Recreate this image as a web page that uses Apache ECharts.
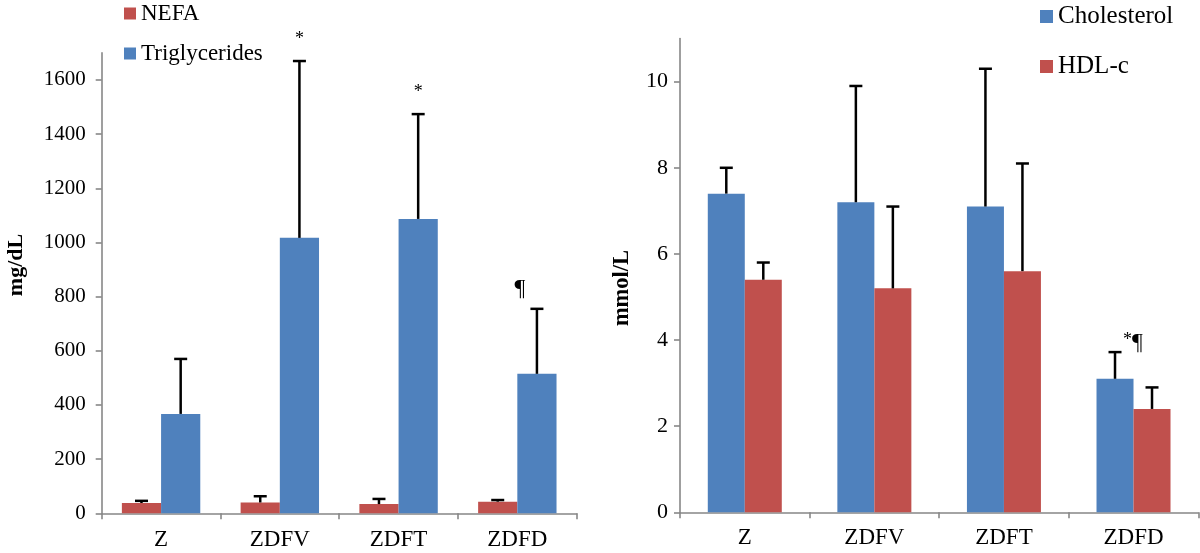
<!DOCTYPE html>
<html>
<head>
<meta charset="utf-8">
<script src="https://cdn.jsdelivr.net/npm/echarts@6/dist/echarts.min.js"></script>
<style>html,body{margin:0;padding:0;background:#fff;}#c{width:1200px;height:553px;}</style>
</head>
<body>
<div id="c"></div>
<script>
const categories = ['Z', 'ZDFV', 'ZDFT', 'ZDFD'];
// Left panel (mg/dL)
const nefa = [38, 40, 34, 43];
const nefaErr = [46, 63, 53, 49];
const trig = [367, 1017, 1087, 515];
const trigErr = [570, 1670, 1474, 755];
const trigMarks = ['', '*', '*', '¶'];
const leftTicks = [0, 200, 400, 600, 800, 1000, 1200, 1400, 1600];
// Right panel (mmol/L)
const chol = [7.4, 7.2, 7.1, 3.1];
const cholErr = [8.0, 9.9, 10.3, 3.72];
const hdl = [5.4, 5.2, 5.6, 2.4];
const hdlErr = [5.8, 7.1, 8.1, 2.9];
const cholMarks = ['', '', '', '*¶'];
const rightTicks = [0, 2, 4, 6, 8, 10];

const RED = '#C0504D', BLUE = '#4F81BD', AXIS = '#878787';
const FONT = '"Liberation Serif", "Times New Roman", serif';

const chart = echarts.init(document.getElementById('c'));

function errData(mean, upper, marks) {
  return mean.map((m, i) => [i, m, upper[i], marks ? marks[i] : '']);
}

// layout of annotation glyphs relative to the error-bar cap
const markLayout = {
  '*': { dx: 0, dy: -19, align: 'center' },
  '¶': { dx: -17, dy: -20, align: 'center' },
  '*¶': { dx: 8, dy: -9, align: 'left' }
};

function errSeries(name, xi, yi, mean, upper, marks, offset) {
  return {
    type: 'custom', name: name, xAxisIndex: xi, yAxisIndex: yi, z: 5, silent: true,
    encode: { x: 0, y: [1, 2] },
    renderItem: function (params, api) {
      const base = api.coord([api.value(0), api.value(1)]);
      const top = api.coord([api.value(0), api.value(2)]);
      const cx = base[0] + offset;
      const children = [
        { type: 'line', shape: { x1: cx, y1: base[1], x2: cx, y2: top[1] }, style: { stroke: '#000', lineWidth: 2.5 } },
        { type: 'line', shape: { x1: cx - 6.5, y1: top[1], x2: cx + 6.5, y2: top[1] }, style: { stroke: '#000', lineWidth: 2.5 } }
      ];
      const mark = marks ? marks[params.dataIndex] : '';
      if (mark) {
        const L = markLayout[mark];
        const rt = mark.split('').map(ch => ch === '*' ? '{s|*}' : '{p|' + ch + '}').join('');
        children.push({
          type: 'text',
          style: {
            x: cx + L.dx, y: top[1] + L.dy, text: rt, fill: '#000',
            align: L.align, verticalAlign: 'middle',
            rich: {
              s: { fontSize: 18, fontFamily: FONT, fill: '#000', verticalAlign: 'top', padding: [0, 0, 6, 0] },
              p: { fontSize: 24, fontFamily: FONT, fill: '#000' }
            }
          }
        });
      }
      return { type: 'group', children: children };
    },
    data: errData(mean, upper, marks)
  };
}

function xAxisCfg(gi, margin, fs) {
  return {
    type: 'category', gridIndex: gi, data: categories,
    axisLine: { lineStyle: { color: AXIS, width: 1.6 } },
    axisTick: { show: true, length: 6, lineStyle: { color: AXIS, width: 1.6 } },
    axisLabel: { color: '#000', fontFamily: FONT, fontSize: fs, margin: margin },
    splitLine: { show: false }
  };
}

function yAxisCfg(gi, max, interval, ticks, margin, fs) {
  return {
    type: 'value', gridIndex: gi, min: 0, max: max, interval: interval,
    axisLine: { show: true, lineStyle: { color: AXIS, width: 1.6 } },
    axisTick: { show: true, length: 6, customValues: ticks, lineStyle: { color: AXIS, width: 1.6 } },
    axisLabel: { color: '#000', fontFamily: FONT, fontSize: fs, margin: margin, customValues: ticks,
      formatter: v => String(v) },
    splitLine: { show: false }
  };
}

const option = {
  backgroundColor: '#fff',
  animation: false,
  grid: [
    { left: 101.7, top: 52.9, width: 475, height: 460.4, outerBoundsMode: 'none', containLabel: false },
    { left: 680, top: 38.6, width: 518.3, height: 473.7, outerBoundsMode: 'none', containLabel: false }
  ],
  xAxis: [xAxisCfg(0, 15, 23), xAxisCfg(1, 14.5, 23)],
  yAxis: [yAxisCfg(0, 1700, 200, leftTicks, 16, 21), yAxisCfg(1, 11, 2, rightTicks, 12, 22)],
  legend: [
    {
      data: ['NEFA', 'Triglycerides'], orient: 'vertical', left: 124, top: 2, itemGap: 17, padding: 0,
      itemWidth: 12, itemHeight: 12, icon: 'rect',
      textStyle: { fontFamily: FONT, fontSize: 23, color: '#000' }
    },
    {
      data: ['Cholesterol', 'HDL-c'], orient: 'vertical', left: 1040, top: 4, itemGap: 25, padding: 0,
      itemWidth: 13, itemHeight: 13, icon: 'rect',
      textStyle: { fontFamily: FONT, fontSize: 25, color: '#000' }
    }
  ],
  graphic: [
    { type: 'text', x: 16, y: 265, rotation: Math.PI / 2,
      style: { text: 'mg/dL', font: 'bold 22px ' + FONT, fill: '#000', align: 'center', verticalAlign: 'middle' } },
    { type: 'text', x: 622, y: 288, rotation: Math.PI / 2,
      style: { text: 'mmol/L', font: 'bold 22.5px ' + FONT, fill: '#000', align: 'center', verticalAlign: 'middle' } }
  ],
  series: [
    { type: 'bar', name: 'NEFA', xAxisIndex: 0, yAxisIndex: 0, data: nefa, barWidth: 39.2, barGap: '0%', itemStyle: { color: RED } },
    { type: 'bar', name: 'Triglycerides', xAxisIndex: 0, yAxisIndex: 0, data: trig, barWidth: 39.2, barGap: '0%', itemStyle: { color: BLUE } },
    { type: 'bar', name: 'Cholesterol', xAxisIndex: 1, yAxisIndex: 1, data: chol, barWidth: 37, barGap: '0%', itemStyle: { color: BLUE } },
    { type: 'bar', name: 'HDL-c', xAxisIndex: 1, yAxisIndex: 1, data: hdl, barWidth: 37, barGap: '0%', itemStyle: { color: RED } },
    errSeries('nefaErr', 0, 0, nefa, nefaErr, null, -19.6),
    errSeries('trigErr', 0, 0, trig, trigErr, trigMarks, 19.6),
    errSeries('cholErr', 1, 1, chol, cholErr, cholMarks, -18.5),
    errSeries('hdlErr', 1, 1, hdl, hdlErr, null, 18.5)
  ]
};
chart.setOption(option);
</script>
</body>
</html>
